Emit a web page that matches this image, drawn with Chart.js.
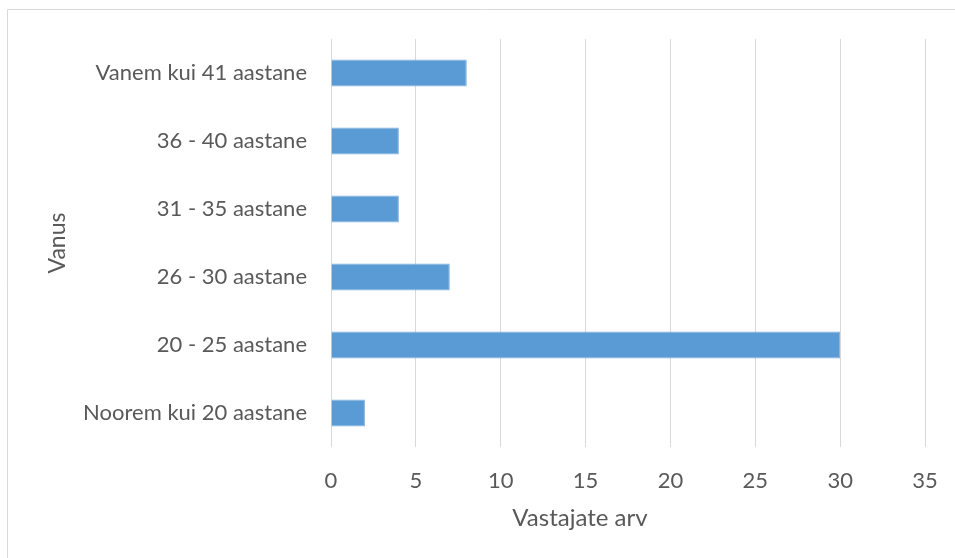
<!DOCTYPE html>
<html>
<head>
<meta charset="utf-8">
<script src="https://cdn.jsdelivr.net/npm/chart.js@4"></script>
<style>
  html, body { margin: 0; padding: 0; background: #fff; }
  #wrap { width: 955px; height: 558px; position: relative; }
</style>
</head>
<body>
<div id="wrap"><canvas id="ages"></canvas></div>
<script>
// top to bottom, as shown
const ageGroups = ['Vanem kui 41 aastane', '36 - 40 aastane', '31 - 35 aastane', '26 - 30 aastane', '20 - 25 aastane', 'Noorem kui 20 aastane'];
const respondents = [8, 4, 4, 7, 30, 2];
const xTitle = 'Vastajate arv';
const yTitle = 'Vanus';

const textColor = '#595959';
const gridColor = '#D9D9D9';
const fontFamily = 'Lato, "Liberation Sans", sans-serif';

// outer chart frame + x axis title (excel puts it off-centre)
const framePlugin = {
  id: 'frame',
  beforeDraw(chart) {
    const c = chart.ctx;
    c.save();
    c.fillStyle = '#fff';
    c.fillRect(0, 0, chart.width, chart.height);
    c.strokeStyle = gridColor;
    c.lineWidth = 1;
    c.beginPath();
    c.moveTo(7.5, chart.height);
    c.lineTo(7.5, 9.5);
    c.lineTo(chart.width, 9.5);
    c.stroke();
    c.restore();
  },
  afterDraw(chart) {
    const c = chart.ctx;
    const area = chart.chartArea;
    c.save();
    c.fillStyle = textColor;
    c.font = '24px ' + fontFamily;
    c.textAlign = 'center';
    c.textBaseline = 'middle';
    c.fillText(xTitle, (area.left + area.right) / 2 - 48, 518);
    c.restore();
  }
};

new Chart(document.getElementById('ages'), {
  type: 'bar',
  data: {
    labels: ageGroups,
    datasets: [{
      label: xTitle,
      data: respondents,
      backgroundColor: '#5B9BD5',
      borderColor: '#7FB0DE',
      borderWidth: 1,
      barPercentage: 0.4,
      categoryPercentage: 1
    }]
  },
  options: {
    indexAxis: 'y',
    responsive: true,
    maintainAspectRatio: false,
    animation: false,
    layout: { padding: { top: 39, right: 30, bottom: 0, left: 0 } },
    plugins: {
      legend: { display: false },
      tooltip: { enabled: false }
    },
    scales: {
      x: {
        min: 0,
        max: 35,
        ticks: { stepSize: 5, color: textColor, padding: 21, font: { family: fontFamily, size: 22 } },
        grid: { color: gridColor, drawTicks: false },
        border: { display: false },
        afterFit(scale) {
          scale.height = 111;
          scale.paddingRight = 0;
        }
      },
      y: {
        ticks: { color: textColor, padding: 24, font: { family: fontFamily, size: 22 } },
        grid: { display: false, drawTicks: false },
        border: { display: false },
        title: {
          display: true,
          text: yTitle,
          color: textColor,
          font: { family: fontFamily, size: 23 },
          padding: { top: 44, bottom: 0 }
        },
        afterFit(scale) { scale.width = 331; }
      }
    }
  },
  plugins: [framePlugin]
});
</script>
</body>
</html>
